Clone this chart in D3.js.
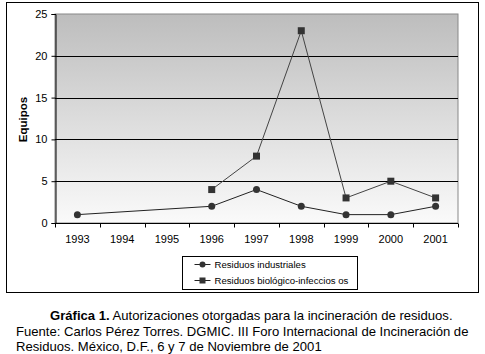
<!DOCTYPE html>
<html>
<head>
<meta charset="utf-8">
<script src="https://cdn.jsdelivr.net/npm/d3@7"></script>
<style>
  body { margin: 0; background: #fff; }
  svg { display: block; font-family: "Liberation Sans", Arial, sans-serif; }
</style>
</head>
<body>
<svg id="chart" width="485" height="354"></svg>
<script>
// years on the x axis and the two series (null = no data, line skips over it)
const years = ['1993', '1994', '1995', '1996', '1997', '1998', '1999', '2000', '2001'];
const industriales = [1, null, null, 2, 4, 2, 1, 1, 2];
const biologicos   = [null, null, null, 4, 8, 23, 3, 5, 3];
const yTicks = [0, 5, 10, 15, 20, 25];

const svg = d3.select('#chart');
const m = { left: 55, top: 14, right: 458, bottom: 223 };

// outer frame
svg.append('rect')
    .attr('x', 6.5).attr('y', 2.5).attr('width', 472).attr('height', 290)
    .attr('fill', '#fff').attr('stroke', '#000').attr('stroke-width', 1);

const x = d3.scaleBand().domain(years).range([m.left, m.right]);
const y = d3.scaleLinear().domain([0, 25]).range([m.bottom, m.top]);

// plot background gradient
const defs = svg.append('defs');
const grad = defs.append('linearGradient').attr('id', 'bg')
    .attr('x1', 0).attr('y1', 0).attr('x2', 0).attr('y2', 1);
grad.append('stop').attr('offset', '0%').attr('stop-color', '#bdbdbd');
grad.append('stop').attr('offset', '50%').attr('stop-color', '#dcdcdc');
grad.append('stop').attr('offset', '100%').attr('stop-color', '#fafafa');

svg.append('rect')
    .attr('x', m.left).attr('y', m.top)
    .attr('width', m.right - m.left).attr('height', m.bottom - m.top)
    .attr('fill', 'url(#bg)').attr('stroke', '#888').attr('stroke-width', 1);

// gridlines
svg.append('g').selectAll('line')
    .data(yTicks.filter(d => d > 0 && d < 25))
    .join('line')
    .attr('x1', m.left).attr('x2', m.right)
    .attr('y1', d => Math.round(y(d)) + 0.5).attr('y2', d => Math.round(y(d)) + 0.5)
    .attr('stroke', '#000').attr('stroke-width', 1);

// y axis
const yAxis = svg.append('g')
    .attr('transform', `translate(${m.left + 0.5},0)`)
    .call(d3.axisLeft(y).tickValues(yTicks).tickSize(4).tickPadding(4));
yAxis.select('.domain').attr('stroke', '#000');
yAxis.selectAll('text').attr('font-size', '11px').attr('fill', '#000')
    .attr('font-family', '"Liberation Sans", Arial, sans-serif');

// x axis: ticks between categories
const xAxisG = svg.append('g').attr('transform', `translate(0,${m.bottom + 0.5})`);
xAxisG.append('line').attr('x1', m.left).attr('x2', m.right).attr('stroke', '#000');
const bounds = years.map(d => x(d)).concat([m.right]);
xAxisG.selectAll('.tk').data(bounds).join('line')
    .attr('class', 'tk')
    .attr('x1', d => Math.round(d) + 0.5).attr('x2', d => Math.round(d) + 0.5)
    .attr('y1', 0).attr('y2', 4).attr('stroke', '#000');
xAxisG.selectAll('text').data(years).join('text')
    .attr('x', d => x(d) + x.bandwidth() / 2)
    .attr('y', 19)
    .attr('text-anchor', 'middle')
    .attr('font-size', '11px')
    .text(d => d);

// y axis title
svg.append('text')
    .attr('transform', `translate(23,${(m.top + m.bottom) / 2 + 1}) rotate(-90)`)
    .attr('text-anchor', 'middle')
    .attr('dy', '0.35em')
    .attr('font-size', '11.5px').attr('font-weight', 'bold')
    .text('Equipos');

const cx = i => x(years[i]) + x.bandwidth() / 2;
const toPts = arr => arr.map((v, i) => ({ v, i })).filter(d => d.v != null);
const line = d3.line().x(d => cx(d.i)).y(d => y(d.v));

// series lines (missing years are bridged)
svg.append('path').datum(toPts(biologicos))
    .attr('d', line).attr('fill', 'none').attr('stroke', '#444').attr('stroke-width', 1);
svg.append('path').datum(toPts(industriales))
    .attr('d', line).attr('fill', 'none').attr('stroke', '#222').attr('stroke-width', 1);

// markers
svg.append('g').selectAll('circle')
    .data(toPts(industriales))
    .join('circle')
    .attr('cx', d => cx(d.i)).attr('cy', d => y(d.v))
    .attr('r', 3.5).attr('fill', '#333');
svg.append('g').selectAll('rect')
    .data(toPts(biologicos))
    .join('rect')
    .attr('x', d => cx(d.i) - 3.5).attr('y', d => y(d.v) - 3.5)
    .attr('width', 7).attr('height', 7).attr('fill', '#333');

// legend
const lg = svg.append('g').attr('transform', 'translate(182.5,256.5)');
lg.append('rect').attr('width', 175).attr('height', 33)
    .attr('fill', '#fff').attr('stroke', '#000');
const legendItems = ['Residuos industriales', 'Residuos biológico-infeccios os'];
legendItems.forEach((name, i) => {
    const yy = 8 + i * 16;
    lg.append('line').attr('x1', 12).attr('x2', 28).attr('y1', yy).attr('y2', yy)
        .attr('stroke', '#222');
    if (i === 0) {
        lg.append('circle').attr('cx', 20).attr('cy', yy).attr('r', 3).attr('fill', '#333');
    } else {
        lg.append('rect').attr('x', 17).attr('y', yy - 3).attr('width', 6).attr('height', 6)
            .attr('fill', '#333');
    }
    lg.append('text').attr('x', 32).attr('y', yy).attr('dy', '0.35em')
        .attr('font-size', '9.6px').text(name);
});

// caption
const cap = svg.append('g').attr('font-size', '13.1px').attr('fill', '#000');
const t1 = cap.append('text').attr('x', 50).attr('y', 320);
t1.append('tspan').attr('font-weight', 'bold').text('Gráfica 1.');
t1.append('tspan').text(' Autorizaciones otorgadas para la incineración de residuos.');
cap.append('text').attr('x', 16).attr('y', 336)
    .text('Fuente: Carlos Pérez Torres. DGMIC. III Foro Internacional de Incineración de');
cap.append('text').attr('x', 16).attr('y', 351)
    .text('Residuos. México, D.F., 6 y 7 de Noviembre de 2001');
</script>
</body>
</html>
